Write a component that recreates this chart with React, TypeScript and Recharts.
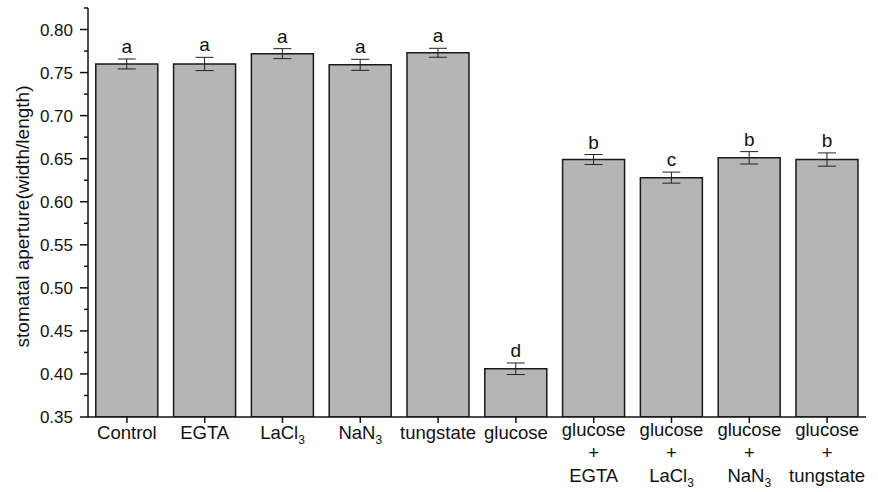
import { Bar, BarChart, ErrorBar, Label, LabelList, XAxis, YAxis } from "recharts";

const categories = [
  "Control",
  "EGTA",
  "LaCl3",
  "NaN3",
  "tungstate",
  "glucose",
  "glucose+EGTA",
  "glucose+LaCl3",
  "glucose+NaN3",
  "glucose+tungstate",
];
const aperture = [0.76, 0.76, 0.772, 0.759, 0.773, 0.406, 0.649, 0.628, 0.651, 0.649];
const stdErr = [0.0058, 0.0077, 0.0058, 0.0064, 0.0052, 0.0067, 0.0058, 0.0064, 0.0072, 0.0077];
const letters = ["a", "a", "a", "a", "a", "d", "b", "c", "b", "b"];
const yTicks = [
  0.35, 0.375, 0.4, 0.425, 0.45, 0.475, 0.5, 0.525, 0.55, 0.575, 0.6, 0.625, 0.65,
  0.675, 0.7, 0.725, 0.75, 0.775, 0.8, 0.825,
];
const yTitle = "stomatal aperture(width/length)";
const Y_MIN = 0.35;
const Y_MAX = 0.825;

const data = categories.map((name, i) => ({
  name,
  value: aperture[i],
  err: stdErr[i],
  letter: letters[i],
}));

const FONT = "'Liberation Sans', Arial, sans-serif";

// digits after an element symbol are drawn as subscripts (LaCl3, NaN3)
function chem(text: string) {
  return text.split(/(\d+)/).map((part, i) =>
    /^\d+$/.test(part) ? (
      <tspan key={i} fontSize={12} dy={5}>
        {part}
      </tspan>
    ) : (
      <tspan key={i}>{part}</tspan>
    )
  );
}

function XTick(props: any) {
  const { x, y, payload } = props;
  const parts = String(payload.value).split("+");
  const lines = parts.length === 1 ? [parts[0]] : [parts[0], "+", parts[1]];
  const base = lines.length === 1 ? [22] : [19, 42, 65];
  return (
    <g>
      <line x1={x} y1={y} x2={x} y2={y + 6} stroke="#111" strokeWidth={1.5} />
      {lines.map((ln, i) => (
        <text
          key={i}
          x={x}
          y={y + base[i]}
          textAnchor="middle"
          fontSize={18.5}
          fontFamily={FONT}
          fill="#111"
        >
          {chem(ln)}
        </text>
      ))}
    </g>
  );
}

function YTick(props: any) {
  const { x, y, payload } = props;
  const v = payload.value as number;
  const major = Math.abs(Math.round(v * 20) - v * 20) < 1e-6;
  return (
    <g>
      <line x1={x - (major ? 8 : 4)} y1={y} x2={x} y2={y} stroke="#111" strokeWidth={1.5} />
      {major && (
        <text
          x={x - 15}
          y={y}
          dy="0.355em"
          textAnchor="end"
          fontSize={17}
          fontFamily={FONT}
          fill="#111"
        >
          {v.toFixed(2)}
        </text>
      )}
    </g>
  );
}

function YTitle(props: any) {
  const vb = props.viewBox;
  const cx = 29;
  const cy = vb.y + vb.height / 2 + 4;
  return (
    <text
      x={cx}
      y={cy}
      transform={`rotate(-90 ${cx} ${cy})`}
      textAnchor="middle"
      fontSize={19}
      fontFamily={FONT}
      fill="#111"
    >
      {yTitle}
    </text>
  );
}

function SigLetter(props: any) {
  const { x, y, width, height, value, index } = props;
  const mean = aperture[index];
  const pxPerUnit = height / (mean - Y_MIN);
  const top = y - stdErr[index] * pxPerUnit;
  return (
    <text
      x={x + width / 2}
      y={top - 6}
      textAnchor="middle"
      fontSize={19}
      fontFamily={FONT}
      fill="#111"
    >
      {value}
    </text>
  );
}

export default function App() {
  return (
    <div style={{ position: "absolute", left: 0, top: 0, background: "#fff" }}>
      <BarChart
        width={878}
        height={492}
        data={data}
        margin={{ top: 8, right: 12, left: 0, bottom: 0 }}
        barCategoryGap="10%"
      >
        <XAxis
          dataKey="name"
          height={75}
          interval={0}
          tickSize={0}
          tickMargin={0}
          tickLine={false}
          tick={<XTick />}
          axisLine={{ stroke: "#111", strokeWidth: 1.5 }}
        />
        <YAxis
          width={88}
          type="number"
          domain={[Y_MIN, Y_MAX]}
          ticks={yTicks}
          interval={0}
          allowDataOverflow
          tickSize={0}
          tickMargin={0}
          tickLine={false}
          tick={<YTick />}
          axisLine={{ stroke: "#111", strokeWidth: 1.5 }}
        >
          <Label content={<YTitle />} />
        </YAxis>
        <Bar
          dataKey="value"
          fill="#b5b5b5"
          stroke="#1a1a1a"
          strokeWidth={1.5}
          isAnimationActive={false}
        >
          <ErrorBar dataKey="err" width={9} stroke="#222" strokeWidth={1} />
          <LabelList dataKey="letter" content={<SigLetter />} />
        </Bar>
      </BarChart>
    </div>
  );
}
